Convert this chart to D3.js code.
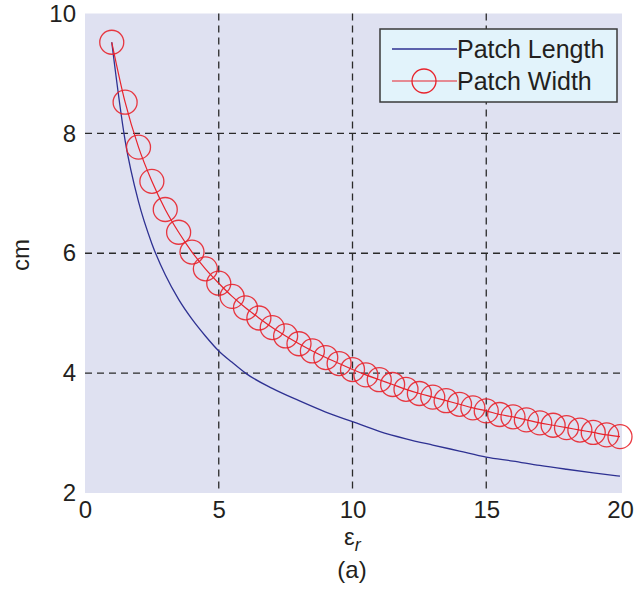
<!DOCTYPE html>
<html>
<head>
<meta charset="utf-8">
<script src="https://cdn.jsdelivr.net/npm/d3@7"></script>
<style>
  html, body { margin: 0; padding: 0; background: #fff; }
  svg { display: block; font-family: "Liberation Sans", Arial, sans-serif; }
</style>
</head>
<body>
<svg id="chart" width="640" height="594"></svg>
<script>
// Relative permittivity values where the patch width is sampled (0.5 steps)
const epsWidth = [1, 1.5, 2, 2.5, 3, 3.5, 4, 4.5, 5, 5.5, 6, 6.5, 7, 7.5, 8, 8.5, 9, 9.5, 10,
  10.5, 11, 11.5, 12, 12.5, 13, 13.5, 14, 14.5, 15, 15.5, 16, 16.5, 17, 17.5, 18, 18.5, 19, 19.5, 20];
// Patch width in cm
const patchWidth = [9.52, 8.52, 7.77, 7.20, 6.73, 6.35, 6.02, 5.74, 5.50, 5.28, 5.09, 4.92, 4.76, 4.62,
  4.49, 4.37, 4.26, 4.16, 4.06, 3.97, 3.89, 3.81, 3.73, 3.66, 3.60, 3.54, 3.48, 3.42, 3.37,
  3.31, 3.27, 3.22, 3.17, 3.13, 3.09, 3.05, 3.01, 2.97, 2.94];

// Patch length in cm
const epsLength = [1, 1.5, 2, 2.5, 3, 3.5, 4, 4.5, 5, 5.5, 6, 7, 8, 9, 10, 11, 12, 13, 14, 15, 16, 17, 18, 19, 20];
const patchLength = [9.52, 7.88, 6.86, 6.16, 5.64, 5.23, 4.90, 4.62, 4.37, 4.18, 4.00, 3.745, 3.54, 3.35,
  3.19, 3.03, 2.905, 2.80, 2.70, 2.60, 2.533, 2.46, 2.396, 2.336, 2.28];

const xTicks = [0, 5, 10, 15, 20];
const yTicks = [2, 4, 6, 8, 10];
const seriesNames = ["Patch Length", "Patch Width"];

const svg = d3.select("#chart");
const plot = { left: 85, right: 620, top: 13.5, bottom: 493 };

const x = d3.scaleLinear().domain([0, 20]).range([plot.left, plot.right]);
const y = d3.scaleLinear().domain([2, 10]).range([plot.bottom, plot.top]);

const blue = "#2e3192";
const red = "#e8232c";

// plot background
svg.append("rect")
  .attr("x", plot.left).attr("y", plot.top)
  .attr("width", plot.right - plot.left + 2).attr("height", plot.bottom - plot.top)
  .attr("fill", "#dfe1f1");

// dashed grid
const grid = svg.append("g").attr("stroke", "#2a2a2a").attr("stroke-width", 1.3)
  .attr("stroke-dasharray", "7,5");
xTicks.slice(1, -1).forEach(t => {
  grid.append("line").attr("x1", x(t)).attr("x2", x(t))
    .attr("y1", plot.top).attr("y2", plot.bottom);
});
yTicks.slice(1, -1).forEach(t => {
  grid.append("line").attr("x1", plot.left).attr("x2", plot.right + 2)
    .attr("y1", y(t)).attr("y2", y(t));
});

// axes (labels only)
const xAxis = d3.axisBottom(x).tickValues(xTicks).tickSize(0).tickPadding(8);
const gx = svg.append("g").attr("transform", `translate(0,${plot.bottom})`).call(xAxis);
gx.select(".domain").remove();
gx.selectAll("text").attr("font-size", 24).attr("fill", "#231f20")
  .attr("font-family", "Liberation Sans, Arial, sans-serif");

const yAxis = d3.axisLeft(y).tickValues(yTicks).tickSize(0).tickPadding(8);
const gy = svg.append("g").attr("transform", `translate(${plot.left - 1},0)`).call(yAxis);
gy.select(".domain").remove();
gy.selectAll("text").attr("font-size", 24).attr("fill", "#231f20")
  .attr("font-family", "Liberation Sans, Arial, sans-serif");

// patch length curve
const lengthData = epsLength.map((e, i) => [e, patchLength[i]]);
svg.append("path")
  .datum(lengthData)
  .attr("fill", "none").attr("stroke", blue).attr("stroke-width", 1.3)
  .attr("d", d3.line().x(d => x(d[0])).y(d => y(d[1])).curve(d3.curveMonotoneX));

// patch width curve with circle markers
const widthData = epsWidth.map((e, i) => [e, patchWidth[i]]);
svg.append("path")
  .datum(widthData)
  .attr("fill", "none").attr("stroke", red).attr("stroke-width", 1.2)
  .attr("d", d3.line().x(d => x(d[0])).y(d => y(d[1])).curve(d3.curveMonotoneX));
svg.append("g").selectAll("circle").data(widthData).join("circle")
  .attr("cx", d => x(d[0])).attr("cy", d => y(d[1])).attr("r", 12)
  .attr("fill", "none").attr("stroke", red).attr("stroke-width", 1.3).attr("stroke-opacity", 0.9);

// legend
const lg = svg.append("g").attr("transform", "translate(380,29)");
lg.append("rect").attr("width", 237).attr("height", 73)
  .attr("fill", "#e2f3fb").attr("stroke", "#3a3a3a").attr("stroke-width", 1.5);
lg.append("line").attr("x1", 12).attr("x2", 77).attr("y1", 20).attr("y2", 20)
  .attr("stroke", blue).attr("stroke-width", 1.3);
lg.append("line").attr("x1", 12).attr("x2", 77).attr("y1", 52).attr("y2", 52)
  .attr("stroke", red).attr("stroke-width", 1.2);
lg.append("circle").attr("cx", 44).attr("cy", 52).attr("r", 12)
  .attr("fill", "none").attr("stroke", red).attr("stroke-width", 1.3);
lg.selectAll("text.lab").data(seriesNames).join("text")
  .attr("class", "lab")
  .attr("x", 77).attr("y", (d, i) => 29 + i * 32)
  .attr("font-size", 25).attr("fill", "#231f20")
  .text(d => d);

// axis titles
svg.append("text")
  .attr("transform", "translate(29,255) rotate(-90)")
  .attr("text-anchor", "middle").attr("font-size", 24).attr("fill", "#231f20")
  .text("cm");

const xt = svg.append("text").attr("x", 344).attr("y", 545)
  .attr("font-size", 24).attr("fill", "#231f20");
xt.append("tspan").text("ε");
xt.append("tspan").attr("font-size", 18).attr("font-style", "italic").attr("dy", 6).text("r");

svg.append("text").attr("x", 352).attr("y", 578)
  .attr("text-anchor", "middle").attr("font-size", 24).attr("fill", "#231f20")
  .text("(a)");
</script>
</body>
</html>
